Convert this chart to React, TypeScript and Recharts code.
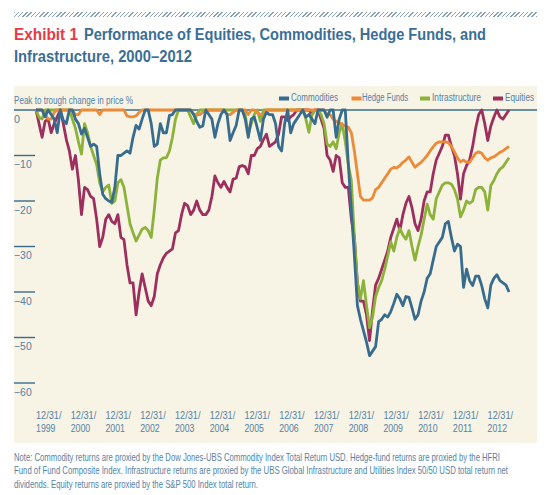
import React from "react";
import { Legend, Line, LineChart, ReferenceLine, XAxis, YAxis } from "recharts";

// Monthly peak-to-trough values, 12/1999 .. 12/2012 (157 points).
const COMMODITIES = [
  0, 0, 0, -1.5, 0, -1, -2, -5, 0, -2.3,
  -3, 0, 0, -2, -3, -5.3, -4, -6, -8, -7.5,
  -8, -14, -18.5, -19.5, -20, -20.3, -17, -10, -10, -9.5,
  -9, -9.5, -6, -3.4, -4.2, -2, 0, 0, -3, -8,
  -7.5, -3, -5, -5, -1.2, -1, 0, 0, 0, 0,
  0, 0, -1, -2.5, -3.8, -3.5, 0, -1, -2, -6,
  -3, -1, 0, -1, -6.7, -5, -3.4, 0, 0, -2,
  -6, -2, -1.5, -4, -6.7, -2, -0.5, -1, -1, -3,
  -8, -9, -3, 0, -5, -3, -2, -1, 0, -1.6,
  -1, -2, -3, 0, 0, 0, -1.6, 0, 0, -6,
  -2, 0, 0, -12, -22, -32, -43, -46, -48.5, -51,
  -54, -53, -52, -46.5, -46, -45, -45.5, -44.3, -42.5, -40.5,
  -41.5, -43, -41, -41.2, -43.5, -46, -45, -42, -40, -37,
  -36, -33, -30, -29, -28, -25, -24.5, -28, -31, -29.5,
  -30, -39, -35, -37.5, -38.6, -36.5, -36.5, -38.6, -41.5, -43.5,
  -38.5, -37, -36.2, -37.5, -38, -38.5, -40,
];

const HEDGE_FUNDS = [
  0, 0, 0, -1, -2, -2, -0.5, 0, 0, 0,
  0, 0, 0, -1, -1, 0, 0, 0, 0, 0,
  0, -1, 0, 0, 0, 0, 0, 0, 0, 0,
  -1.3, -1.5, -1.5, -1.3, -0.5, 0, 0, 0, 0, 0,
  0, 0, 0, 0, 0, 0, 0, 0, 0, 0,
  0, 0, -1, -1, -1, -0.5, 0, 0, 0, 0,
  0, 0, 0, -1, -1, -0.5, 0, 0, 0, 0,
  -1, 0, 0, -0.5, -1, -1, 0, 0, 0, 0,
  0, 0, 0, 0, 0, 0, 0, 0, 0, 0,
  0, 0, 0, 0, 0, 0, -1, -1, -2, -2.5,
  -2.8, -3.3, -3.5, -3.8, -5, -9, -14, -19, -19.8, -19.8,
  -19.8, -19.3, -17.5, -17, -16, -15, -14, -13, -12.6, -12.7,
  -12.2, -11.5, -11, -10.3, -11.5, -12.6, -12, -11.5, -10.8, -10,
  -9, -8.1, -7.3, -7, -7, -7, -7.2, -8, -9.2, -10.5,
  -11.4, -11, -11.5, -11.5, -10.5, -9.5, -9.2, -9.5, -10.5, -11,
  -10.5, -10.3, -9.8, -9.3, -9, -8.5, -8,
];

const INFRASTRUCTURE = [
  0, -1.6, -2, 0, 0, 0, 0, 0, 0, 0,
  0, 0, -2, -4, -7, -9.7, -3, -5, -8, -10,
  -12, -16, -18, -17, -16.5, -20.5, -20, -16, -15.3, -17,
  -21, -25, -27, -28.8, -27.5, -26.2, -25.8, -26.5, -28, -22,
  -15, -11, -10.5, -10.5, -9, -6, -2, 0, 0, 0,
  0, -1.5, -3, -1, 0, 0, 0, 0, 0, 0,
  0, 0, 0, 0, 0, 0, 0, 0, 0, -1,
  -5.3, -3, -1, 0, -2.5, 0, 0, 0, 0, 0,
  0, 0, 0, 0, 0, 0, 0, 0, 0, -2,
  -4.9, -1, 0, 0, -1, -3, -7.5, -8, -7, -8.5,
  -5, -3, -7, -12, -15.5, -28, -38, -41.5, -37.5, -43,
  -47.8, -45.5, -41, -39, -37.5, -35, -32, -29, -31, -28,
  -26, -27.5, -28.4, -26.5, -30, -33, -30, -27.5, -24, -20.7,
  -23, -24, -19.5, -18, -16.5, -16, -16, -16.3, -17.5, -19.5,
  -23.5, -22, -20, -20.5, -20, -17.5, -17, -17, -18, -22,
  -16.6, -15.5, -14, -13, -12.5, -11.5, -10.5,
];

const EQUITIES = [
  0, -3, -6, -2.5, -2, -5, -3, -1.5, 0, -3,
  -6.5, -9, -13, -10, -15.5, -23, -17, -17.5, -19, -19.5,
  -24, -30, -28, -24, -23, -24.5, -25, -23, -28, -28.5,
  -34, -38, -38, -45, -40, -36, -39, -42, -43, -41,
  -36, -34, -32.5, -31.5, -31, -30.5, -27, -26.5, -23, -20.5,
  -21, -23, -22, -20, -22, -23, -23, -22, -19, -14.5,
  -16, -17, -15.7, -17, -18, -15.2, -15, -12.5, -12.2, -12.5,
  -14, -10, -10, -8.5, -8, -6.5, -5.3, -8, -7.5, -7,
  -5.3, -1.5, -1.5, -2.3, -1.5, -1, 0, 0, 0, 0,
  0, -1, 0, 0, -2, -4, -10, -11, -13.5, -10,
  -10.5, -16, -17, -17, -24, -28, -38, -42, -42, -45,
  -50.7, -44, -38.5, -37, -35, -33, -31, -28, -26, -24,
  -26.5, -23, -20.5, -19, -21.5, -25, -26.5, -24, -20, -18,
  -18, -14, -11, -9.5, -8, -5.5, -5.5, -8, -10, -14,
  -19.6, -14, -12.2, -11, -8, -4, -1, 0, -3, -6.7,
  -3.5, -1.6, 0, -1.5, -2, -1, 0,
];

const YEARS = [1999, 2000, 2001, 2002, 2003, 2004, 2005, 2006, 2007, 2008, 2009, 2010, 2011, 2012];
const Y_TICKS = [0, -10, -20, -30, -40, -50, -60];

// drawing order: last one sits on top
const SERIES = [
  { key: "equities", name: "Equities", color: "#9c2f5d" },
  { key: "infra", name: "Intrastructure", color: "#8cb23a" },
  { key: "hedge", name: "Hedge Funds", color: "#ec8a37" },
  { key: "commodities", name: "Commodities", color: "#376c8f" },
];

// legend layout in the reference: marker x, text x, text width (relative to legend box)
const LEGEND_ITEMS = [
  { key: "commodities", mx: 0, tx: 12, tw: 47 },
  { key: "hedge", mx: 72.5, tx: 83, tw: 46 },
  { key: "infra", mx: 141, tx: 153, tw: 49 },
  { key: "equities", mx: 214, tx: 226, tw: 29 },
];

const FONT = '"Liberation Sans", Arial, Roboto, sans-serif';
const AXIS_BLUE = "#376c8f";
const TEXT_BLUE = "#5582a6";
const TITLE_BLUE = "#3a6e96";

// x in months since 12/1999; domain padded so the plot spans the whole beige panel
const X_MIN = -7.26;
const X_MAX = 165.23;
const LABEL_STEP = 11.457; // the year labels are set slightly tighter than a year of data

const data = EQUITIES.map((v, i) => ({
  m: i,
  equities: v,
  commodities: COMMODITIES[i],
  hedge: HEDGE_FUNDS[i],
  infra: INFRASTRUCTURE[i],
}));

function XTick({ x, y, payload }: any) {
  const year = YEARS[Math.round(payload.value / LABEL_STEP)];
  return (
    <g fill={TEXT_BLUE} fontSize={11.5} fontFamily={FONT}>
      <text x={x} y={y + 28} textLength={25.5} lengthAdjust="spacingAndGlyphs">12/31/</text>
      <text x={x} y={y + 41} textLength={19.5} lengthAdjust="spacingAndGlyphs">{year}</text>
    </g>
  );
}

function YTick({ y, payload }: any) {
  const v = payload.value;
  return (
    <g>
      {v !== 0 && <line x1={14} x2={35} y1={y} y2={y} stroke={AXIS_BLUE} strokeWidth={1.4} />}
      <text
        x={14}
        y={y + 12.5}
        fill={TEXT_BLUE}
        fontSize={11}
        fontFamily={FONT}
        textLength={v === 0 ? 6 : 17.7}
        lengthAdjust="spacingAndGlyphs"
      >
        {v === 0 ? "0" : "\u2212" + Math.abs(v)}
      </text>
    </g>
  );
}

function LegendContent() {
  return (
    <svg width={262} height={14} style={{ display: "block", overflow: "visible" }}>
      {LEGEND_ITEMS.map((it) => {
        const s = SERIES.find((d) => d.key === it.key)!;
        return (
          <g key={it.key}>
            <rect x={it.mx} y={4.5} width={10} height={4} fill={s.color} />
            <text
              x={it.tx}
              y={9.3}
              fontSize={10}
              fontFamily={FONT}
              fill={TEXT_BLUE}
              textLength={it.tw}
              lengthAdjust="spacingAndGlyphs"
            >
              {s.name}
            </text>
          </g>
        );
      })}
    </svg>
  );
}

export default function App() {
  return (
    <div style={{ position: "absolute", left: 0, top: 0, width: 546, height: 495, background: "#fff", fontFamily: FONT }}>
      <div
        style={{
          position: "absolute", left: 14, top: 12, width: 523, height: 5,
          background: "repeating-linear-gradient(135deg, #8aa2b8 0 1px, #ffffff 1px 3px)",
        }}
      />
      <div style={{ position: "absolute", left: 14, top: 86, width: 523, height: 357, background: "#f7f3e5" }} />
      <svg width={546} height={495} style={{ position: "absolute", left: 0, top: 0 }}>
        <g fontFamily={FONT} fontWeight={700} fontSize={16} fill={TITLE_BLUE}>
          <text x={14} y={40} fill="#e83a45" textLength={64} lengthAdjust="spacingAndGlyphs">Exhibit 1</text>
          <text x={84} y={40} textLength={402} lengthAdjust="spacingAndGlyphs">
            Performance of Equities, Commodities, Hedge Funds, and
          </text>
          <text x={14} y={62} textLength={178} lengthAdjust="spacingAndGlyphs">Infrastructure, 2000–2012</text>
        </g>
        <text x={14} y={103.5} fontFamily={FONT} fontSize={10} fill={TEXT_BLUE} textLength={119} lengthAdjust="spacingAndGlyphs">
          Peak to trough change in price %
        </text>
        <g fontFamily={FONT} fontSize={10.5} fill={TEXT_BLUE}>
          <text x={14} y={460.5} textLength={486} lengthAdjust="spacingAndGlyphs">
            Note: Commodity returns are proxied by the Dow Jones-UBS Commodity Index Total Return USD. Hedge-fund returns are proxied by the HFRI
          </text>
          <text x={14} y={474} textLength={494} lengthAdjust="spacingAndGlyphs">
            Fund of Fund Composite Index. Infrastructure returns are proxied by the UBS Global Infrastructure and Utilities Index 50/50 USD total return net
          </text>
          <text x={14} y={487.5} textLength={244} lengthAdjust="spacingAndGlyphs">
            dividends. Equity returns are proxied by the S&amp;P 500 Index total return.
          </text>
        </g>
      </svg>
      <div style={{ position: "absolute", left: 0, top: 0 }}>
        <LineChart width={546} height={443} data={data} margin={{ top: 110, right: 9, left: 13, bottom: 0 }}>
          <XAxis
            dataKey="m"
            type="number"
            domain={[X_MIN, X_MAX]}
            ticks={YEARS.map((_, i) => i * LABEL_STEP)}
            tick={<XTick />}
            axisLine={false}
            tickLine={false}
            height={60}
            interval={0}
          />
          <YAxis
            type="number"
            domain={[-60, 0]}
            ticks={Y_TICKS}
            tick={<YTick />}
            axisLine={false}
            tickLine={false}
            width={1}
            interval={0}
          />
          <ReferenceLine y={0} stroke={AXIS_BLUE} strokeWidth={1.4} />
          <Legend
            layout="horizontal"
            verticalAlign="middle"
            align="center"
            content={<LegendContent />}
            wrapperStyle={{ top: 92, left: 279, width: 262, height: 14 }}
          />
          {SERIES.map((s) => (
            <Line
              key={s.key}
              type="linear"
              dataKey={s.key}
              name={s.name}
              stroke={s.color}
              strokeWidth={2.8}
              strokeLinejoin="round"
              dot={false}
              activeDot={false}
              isAnimationActive={false}
            />
          ))}
        </LineChart>
      </div>
    </div>
  );
}
